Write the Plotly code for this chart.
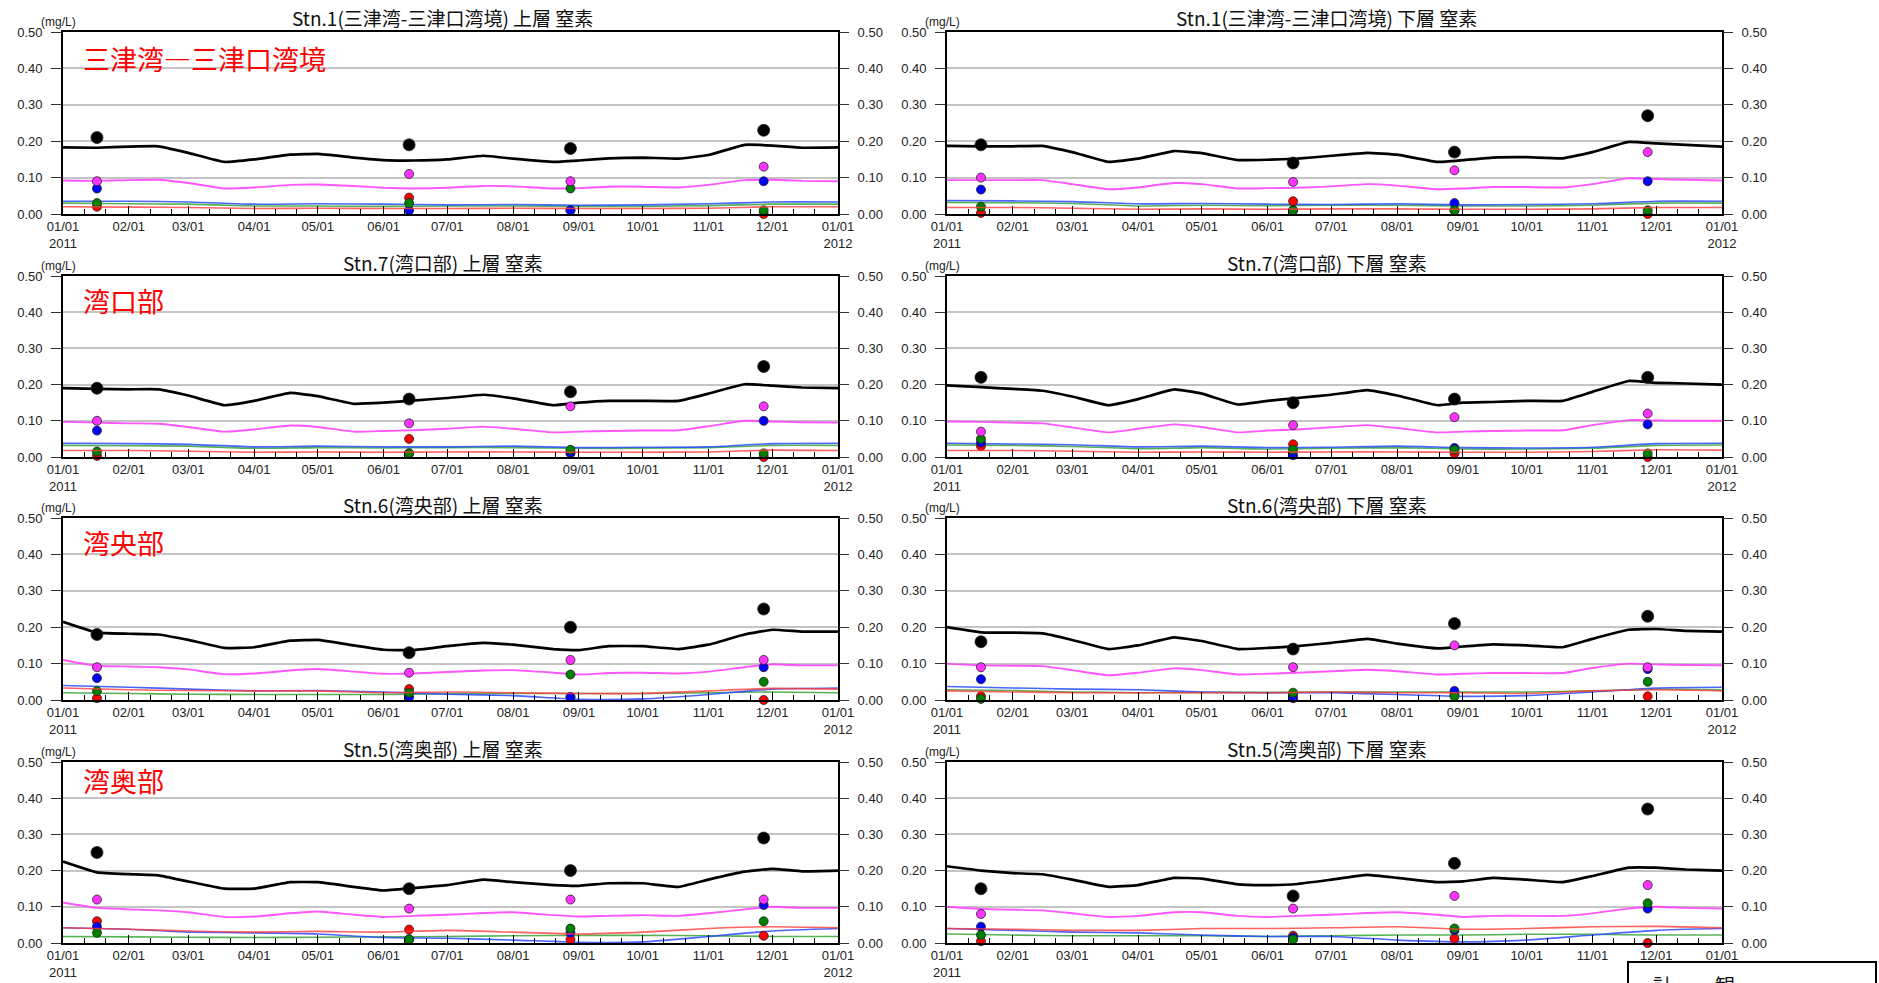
import plotly.graph_objects as go

# ---------------- data ----------------
LINE_DATES = ["2011-01-01", "2011-01-17", "2011-02-01", "2011-02-15", "2011-03-01", "2011-03-18",
              "2011-04-01", "2011-04-18", "2011-05-01", "2011-05-18", "2011-06-01", "2011-06-15",
              "2011-07-01", "2011-07-18", "2011-08-01", "2011-08-20", "2011-09-01", "2011-09-15",
              "2011-10-01", "2011-10-18", "2011-11-01", "2011-11-18", "2011-12-01", "2011-12-15",
              "2012-01-01"]
MONTH_DATES = ["2011-01-01", "2011-02-01", "2011-03-01", "2011-04-01", "2011-05-01", "2011-06-01",
               "2011-07-01", "2011-08-01", "2011-09-01", "2011-10-01", "2011-11-01", "2011-12-01",
               "2012-01-01"]
OBS_DATES = ["2011-01-17", "2011-06-13", "2011-08-28", "2011-11-27"]

TICK_TEXT = ["01/01<br>2011", "02/01", "03/01", "04/01", "05/01", "06/01", "07/01",
             "08/01", "09/01", "10/01", "11/01", "12/01", "01/01<br>2012"]

TITLES = ["Stn.1(三津湾-三津口湾境) 上層 窒素", "Stn.1(三津湾-三津口湾境) 下層 窒素",
          "Stn.7(湾口部) 上層 窒素", "Stn.7(湾口部) 下層 窒素",
          "Stn.6(湾央部) 上層 窒素", "Stn.6(湾央部) 下層 窒素",
          "Stn.5(湾奥部) 上層 窒素", "Stn.5(湾奥部) 下層 窒素"]
AREA_LABELS = ["三津湾―三津口湾境", "湾口部", "湾央部", "湾奥部"]

# model lines (black = total, magenta, blue, green, red)
black_1 = [0.183, 0.182, 0.185, 0.186, 0.168, 0.143, 0.150, 0.163, 0.165, 0.155, 0.148, 0.147, 0.150,
           0.160, 0.152, 0.143, 0.147, 0.153, 0.155, 0.152, 0.162, 0.190, 0.188, 0.182, 0.183]
mag_1 = [0.092, 0.091, 0.093, 0.094, 0.085, 0.070, 0.073, 0.080, 0.081, 0.077, 0.072, 0.070, 0.072,
         0.077, 0.076, 0.070, 0.071, 0.075, 0.075, 0.073, 0.080, 0.093, 0.094, 0.091, 0.090]
blue_1 = [0.035, 0.035, 0.033, 0.027, 0.028, 0.027, 0.025, 0.026, 0.024, 0.025, 0.028, 0.033, 0.033]
green_1 = [0.030, 0.028, 0.027, 0.022, 0.022, 0.021, 0.022, 0.022, 0.021, 0.021, 0.023, 0.027, 0.027]
red_1 = [0.020, 0.019, 0.018, 0.015, 0.016, 0.015, 0.015, 0.016, 0.015, 0.015, 0.016, 0.020, 0.020]

black_2 = [0.187, 0.186, 0.186, 0.187, 0.170, 0.143, 0.152, 0.173, 0.167, 0.148, 0.149, 0.152, 0.160,
           0.168, 0.163, 0.143, 0.148, 0.155, 0.156, 0.153, 0.170, 0.198, 0.194, 0.190, 0.185]
mag_2 = [0.093, 0.093, 0.093, 0.093, 0.082, 0.068, 0.073, 0.085, 0.082, 0.070, 0.071, 0.072, 0.076,
         0.082, 0.078, 0.068, 0.070, 0.074, 0.074, 0.073, 0.082, 0.098, 0.096, 0.094, 0.092]
blue_2 = [0.037, 0.036, 0.034, 0.028, 0.029, 0.027, 0.026, 0.028, 0.025, 0.026, 0.028, 0.035, 0.035]
green_2 = [0.032, 0.031, 0.029, 0.022, 0.024, 0.023, 0.024, 0.024, 0.022, 0.022, 0.024, 0.030, 0.030]
red_2 = [0.018, 0.018, 0.016, 0.013, 0.014, 0.013, 0.014, 0.014, 0.013, 0.013, 0.014, 0.018, 0.018]

black_3 = [0.190, 0.188, 0.187, 0.187, 0.170, 0.143, 0.155, 0.177, 0.168, 0.147, 0.150, 0.156, 0.163,
           0.172, 0.162, 0.143, 0.150, 0.155, 0.155, 0.155, 0.175, 0.201, 0.197, 0.192, 0.190]
mag_3 = [0.097, 0.095, 0.093, 0.092, 0.083, 0.070, 0.076, 0.087, 0.083, 0.070, 0.072, 0.074, 0.078,
         0.084, 0.078, 0.068, 0.070, 0.072, 0.073, 0.074, 0.085, 0.100, 0.098, 0.096, 0.095]
blue_3 = [0.038, 0.037, 0.035, 0.028, 0.030, 0.028, 0.028, 0.030, 0.026, 0.027, 0.028, 0.037, 0.038]
green_3 = [0.032, 0.031, 0.030, 0.024, 0.026, 0.025, 0.026, 0.026, 0.024, 0.024, 0.026, 0.032, 0.032]
red_3 = [0.018, 0.018, 0.016, 0.013, 0.014, 0.013, 0.014, 0.014, 0.013, 0.013, 0.014, 0.019, 0.018]

black_4 = [0.198, 0.193, 0.188, 0.183, 0.167, 0.143, 0.160, 0.187, 0.175, 0.145, 0.155, 0.163, 0.172,
           0.185, 0.170, 0.143, 0.150, 0.152, 0.155, 0.155, 0.180, 0.210, 0.205, 0.203, 0.200]
mag_4 = [0.098, 0.097, 0.095, 0.093, 0.082, 0.068, 0.078, 0.090, 0.083, 0.068, 0.073, 0.076, 0.082,
         0.088, 0.080, 0.068, 0.070, 0.072, 0.073, 0.074, 0.088, 0.102, 0.101, 0.100, 0.100]
blue_4 = [0.038, 0.036, 0.034, 0.028, 0.030, 0.026, 0.027, 0.030, 0.026, 0.025, 0.027, 0.037, 0.038]
green_4 = [0.033, 0.032, 0.029, 0.023, 0.026, 0.022, 0.024, 0.026, 0.022, 0.022, 0.024, 0.032, 0.033]
red_4 = [0.018, 0.018, 0.016, 0.013, 0.014, 0.013, 0.014, 0.014, 0.013, 0.013, 0.015, 0.020, 0.019]

black_5 = [0.215, 0.185, 0.182, 0.180, 0.165, 0.143, 0.145, 0.163, 0.165, 0.150, 0.138, 0.137, 0.148,
           0.157, 0.152, 0.140, 0.137, 0.148, 0.148, 0.140, 0.152, 0.180, 0.193, 0.188, 0.188]
mag_5 = [0.110, 0.094, 0.092, 0.090, 0.084, 0.071, 0.073, 0.081, 0.085, 0.078, 0.072, 0.073, 0.077,
         0.081, 0.082, 0.075, 0.070, 0.074, 0.075, 0.073, 0.078, 0.090, 0.098, 0.095, 0.095]
blue_5 = [0.040, 0.035, 0.030, 0.025, 0.026, 0.022, 0.016, 0.012, 0.002, 0.003, 0.015, 0.030, 0.033]
green_5 = [0.020, 0.018, 0.016, 0.015, 0.015, 0.015, 0.017, 0.018, 0.018, 0.018, 0.020, 0.022, 0.020]
red_5 = [0.033, 0.028, 0.026, 0.025, 0.025, 0.020, 0.022, 0.020, 0.018, 0.018, 0.025, 0.032, 0.030]

black_6 = [0.200, 0.186, 0.185, 0.183, 0.165, 0.140, 0.150, 0.172, 0.162, 0.140, 0.143, 0.148, 0.157,
           0.168, 0.155, 0.142, 0.147, 0.153, 0.150, 0.145, 0.168, 0.193, 0.195, 0.190, 0.188]
mag_6 = [0.100, 0.095, 0.094, 0.093, 0.082, 0.068, 0.075, 0.087, 0.082, 0.070, 0.072, 0.075, 0.079,
         0.083, 0.079, 0.070, 0.072, 0.074, 0.074, 0.074, 0.088, 0.100, 0.098, 0.096, 0.095]
blue_6 = [0.037, 0.033, 0.030, 0.028, 0.022, 0.020, 0.020, 0.015, 0.010, 0.012, 0.022, 0.033, 0.035]
green_6 = [0.028, 0.026, 0.022, 0.020, 0.021, 0.021, 0.022, 0.022, 0.022, 0.022, 0.025, 0.030, 0.028]
red_6 = [0.025, 0.022, 0.020, 0.020, 0.020, 0.020, 0.022, 0.020, 0.020, 0.018, 0.025, 0.028, 0.025]

black_7 = [0.225, 0.195, 0.190, 0.187, 0.170, 0.150, 0.150, 0.168, 0.168, 0.155, 0.145, 0.152, 0.160,
           0.175, 0.168, 0.160, 0.158, 0.165, 0.165, 0.155, 0.175, 0.197, 0.205, 0.198, 0.200]
mag_7 = [0.112, 0.097, 0.093, 0.090, 0.085, 0.072, 0.073, 0.082, 0.087, 0.078, 0.072, 0.075, 0.078,
         0.083, 0.085, 0.077, 0.073, 0.075, 0.077, 0.075, 0.082, 0.093, 0.100, 0.097, 0.097]
blue_7 = [0.042, 0.038, 0.030, 0.028, 0.025, 0.015, 0.013, 0.008, 0.002, 0.003, 0.018, 0.033, 0.040]
green_7 = [0.018, 0.017, 0.016, 0.015, 0.016, 0.017, 0.018, 0.020, 0.021, 0.021, 0.020, 0.018, 0.018]
red_7 = [0.042, 0.038, 0.033, 0.030, 0.032, 0.030, 0.035, 0.030, 0.025, 0.030, 0.040, 0.045, 0.042]

black_8 = [0.212, 0.200, 0.193, 0.190, 0.175, 0.155, 0.160, 0.180, 0.178, 0.162, 0.160, 0.163, 0.175,
           0.188, 0.180, 0.168, 0.170, 0.180, 0.175, 0.168, 0.185, 0.208, 0.208, 0.203, 0.200]
mag_8 = [0.100, 0.094, 0.092, 0.090, 0.082, 0.072, 0.075, 0.085, 0.085, 0.075, 0.072, 0.075, 0.078,
         0.083, 0.085, 0.078, 0.072, 0.075, 0.075, 0.075, 0.082, 0.095, 0.100, 0.097, 0.095]
blue_8 = [0.040, 0.035, 0.030, 0.028, 0.022, 0.018, 0.018, 0.008, 0.003, 0.008, 0.022, 0.035, 0.040]
green_8 = [0.025, 0.022, 0.020, 0.020, 0.020, 0.018, 0.020, 0.022, 0.022, 0.024, 0.024, 0.022, 0.022]
red_8 = [0.040, 0.038, 0.035, 0.035, 0.040, 0.040, 0.042, 0.045, 0.038, 0.040, 0.045, 0.046, 0.042]

# observations (4 survey dates)
obs_black = [[0.21, 0.19, 0.18, 0.23], [0.19, 0.14, 0.17, 0.27], [0.19, 0.16, 0.18, 0.25],
             [0.22, 0.15, 0.16, 0.22], [0.18, 0.13, 0.20, 0.25], [0.16, 0.14, 0.21, 0.23],
             [0.25, 0.15, 0.20, 0.29], [0.15, 0.13, 0.22, 0.37]]
obs_mag = [[0.09, 0.11, 0.09, 0.13], [0.10, 0.088, 0.12, 0.17], [0.10, 0.093, 0.14, 0.14],
           [0.07, 0.088, 0.11, 0.12], [0.09, 0.075, 0.11, 0.11], [0.09, 0.09, 0.15, 0.09],
           [0.12, 0.095, 0.12, 0.12], [0.08, 0.095, 0.13, 0.16]]
obs_blue = [[0.07, 0.01, 0.01, 0.09], [0.067, 0.01, 0.03, 0.09], [0.073, 0.01, 0.012, 0.10],
            [0.04, 0.005, 0.025, 0.09], [0.06, 0.008, 0.008, 0.09], [0.057, 0.005, 0.025, 0.085],
            [0.045, 0.01, 0.028, 0.105], [0.045, 0.015, 0.035, 0.095]]
obs_green = [[0.03, 0.03, 0.07, 0.01], [0.02, 0.01, 0.01, 0.01], [0.015, 0.01, 0.02, 0.01],
             [0.05, 0.02, 0.02, 0.01], [0.025, 0.02, 0.07, 0.05], [0.003, 0.02, 0.01, 0.05],
             [0.028, 0.01, 0.04, 0.06], [0.022, 0.01, 0.04, 0.11]]
obs_red = [[0.02, 0.045, 0.01, 0.0], [0.003, 0.035, 0.01, 0.0], [0.003, 0.05, 0.01, 0.0],
           [0.03, 0.035, 0.01, 0.0], [0.005, 0.03, 0.008, 0.0], [0.01, 0.015, 0.015, 0.01],
           [0.06, 0.037, 0.01, 0.02], [0.005, 0.02, 0.012, 0.0]]

BLACK = [black_1, black_2, black_3, black_4, black_5, black_6, black_7, black_8]
MAG = [mag_1, mag_2, mag_3, mag_4, mag_5, mag_6, mag_7, mag_8]
BLUE = [blue_1, blue_2, blue_3, blue_4, blue_5, blue_6, blue_7, blue_8]
GREEN = [green_1, green_2, green_3, green_4, green_5, green_6, green_7, green_8]
RED = [red_1, red_2, red_3, red_4, red_5, red_6, red_7, red_8]

# ---------------- layout geometry ----------------
W, H = 1879, 983
COL_X = [(63, 838), (947, 1722)]            # page pixels
ROW_Y = [(32, 214), (276, 457), (518, 700), (762, 943)]
LABEL_Y = [0.852, 0.862, 0.868, 0.90]


def px(x):
    return x / W


def py(y):
    return 1 - y / H


LATIN = "Liberation Sans, Arial, sans-serif"
CJK = "Noto Sans CJK JP, sans-serif"

minor_ticks = []
for m in range(1, 13):
    minor_ticks += ["2011-%02d-11" % m, "2011-%02d-21" % m]

fig = go.Figure()
layout = dict(width=W, height=H, margin=dict(l=0, r=0, t=0, b=0, autoexpand=False),
              paper_bgcolor="white", plot_bgcolor="white", showlegend=False,
              annotations=[], shapes=[])

for i in range(8):
    row, col = i // 2, i % 2
    n = i + 1
    xs = "x" if n == 1 else "x%d" % n
    ys = "y" if n == 1 else "y%d" % n
    yr = "y%d" % (n + 8)
    xa = "xaxis" if n == 1 else "xaxis%d" % n
    ya = "yaxis" if n == 1 else "yaxis%d" % n
    yra = "yaxis%d" % (n + 8)

    x0, x1 = COL_X[col]
    t0, t1 = ROW_Y[row]
    ttext = list(TICK_TEXT)
    if i == 7:
        ttext[-1] = "01/01"   # year label hidden behind the legend box in the source
    layout[xa] = dict(domain=[px(x0), px(x1)], anchor=ys, type="date", automargin=False,
                      range=["2011-01-01", "2012-01-01"],
                      tickmode="array", tickvals=MONTH_DATES, ticktext=ttext,
                      ticks="inside", ticklen=8, tickcolor="black", tickwidth=1.3,
                      minor=dict(tickmode="array", tickvals=minor_ticks, ticks="inside",
                                 ticklen=5, tickcolor="black", tickwidth=1, showgrid=False),
                      showline=True, linecolor="black", linewidth=1.6, mirror=True,
                      showgrid=False, zeroline=False,
                      tickfont=dict(family=LATIN, size=13, color="#222"))
    ycommon = dict(range=[0, 0.5], tickmode="array", automargin=False,
                   tickvals=[0, 0.1, 0.2, 0.3, 0.4, 0.5], tickformat=".2f",
                   ticks="outside", ticklen=10, tickcolor="#333", tickwidth=1.3,
                   ticklabelstandoff=6, zeroline=False,
                   tickfont=dict(family=LATIN, size=13, color="#222"))
    layout[ya] = dict(domain=[py(t1), py(t0)], anchor=xs,
                      showline=True, linecolor="black", linewidth=1.6, mirror=True,
                      showgrid=True, gridcolor="#c4c4c4", gridwidth=1.6, **ycommon)
    layout[yra] = dict(overlaying=ys, side="right", anchor=xs, showgrid=False,
                       showline=False, **ycommon)

    # lines
    fig.add_trace(go.Scatter(x=MONTH_DATES, y=RED[i], mode="lines", xaxis=xs, yaxis=yr,
                             line=dict(color="#ff3b3b", width=1.6, shape="spline", smoothing=0.5),
                             opacity=0.8, hoverinfo="skip"))
    fig.add_trace(go.Scatter(x=MONTH_DATES, y=GREEN[i], mode="lines", xaxis=xs, yaxis=ys,
                             line=dict(color="#2ea02e", width=1.6, shape="spline", smoothing=0.5),
                             opacity=0.8, hoverinfo="skip"))
    fig.add_trace(go.Scatter(x=MONTH_DATES, y=BLUE[i], mode="lines", xaxis=xs, yaxis=ys,
                             line=dict(color="#2b4cff", width=1.6, shape="spline", smoothing=0.5),
                             opacity=0.85, hoverinfo="skip"))
    fig.add_trace(go.Scatter(x=LINE_DATES, y=MAG[i], mode="lines", xaxis=xs, yaxis=ys,
                             line=dict(color="#ff44ff", width=1.9, shape="spline", smoothing=0.4),
                             opacity=0.9, hoverinfo="skip"))
    fig.add_trace(go.Scatter(x=LINE_DATES, y=BLACK[i], mode="lines", xaxis=xs, yaxis=ys,
                             line=dict(color="#000000", width=2.7, shape="spline", smoothing=0.3),
                             hoverinfo="skip"))
    # observations
    for vals, colr, size in [(obs_red[i], "#ff0000", 9), (obs_blue[i], "#0000ff", 9),
                             (obs_green[i], "#008000", 9), (obs_mag[i], "#ff33ff", 9),
                             (obs_black[i], "#000000", 12)]:
        fig.add_trace(go.Scatter(x=OBS_DATES, y=vals, mode="markers", xaxis=xs, yaxis=ys,
                                 cliponaxis=False,
                                 marker=dict(color=colr, size=size,
                                             line=dict(color="#222", width=0.8))))

    dx = xs + " domain"
    dy = ys + " domain"
    layout["annotations"].append(dict(text=TITLES[i], xref=dx, yref=dy, x=0.49, y=1,
                                      xanchor="center", yanchor="middle", yshift=14,
                                      showarrow=False,
                                      font=dict(family=CJK, size=19, color="#111")))
    layout["annotations"].append(dict(text="(mg/L)", xref=dx, yref=dy, x=0, y=1,
                                      xanchor="center", yanchor="middle", yshift=10, xshift=-5,
                                      showarrow=False,
                                      font=dict(family=LATIN, size=12, color="#222")))
    if col == 0:
        layout["annotations"].append(dict(text=AREA_LABELS[row], xref=dx, yref=dy, x=0,
                                          y=LABEL_Y[row], xanchor="left", yanchor="middle",
                                          xshift=18, showarrow=False,
                                          font=dict(family=CJK, size=27, color="#ff0000")))

# partially visible legend box at bottom-right corner
layout["shapes"].append(dict(type="rect", xref="paper", yref="paper",
                             x0=px(1628), x1=px(1876), y0=-0.05, y1=py(962),
                             line=dict(color="black", width=2), fillcolor="white"))
for txt, xx in [("計", 1663), ("観", 1725)]:
    layout["annotations"].append(dict(text=txt, xref="paper", yref="paper", x=px(xx),
                                      y=py(969), xanchor="center", yanchor="top",
                                      showarrow=False,
                                      font=dict(family=CJK, size=20, color="#111")))

fig.update_layout(**layout)
fig.write_html("out.html", include_plotlyjs=True, config={"displayModeBar": False},
               post_script="document.body.style.margin='0';document.body.style.overflow='hidden';")
